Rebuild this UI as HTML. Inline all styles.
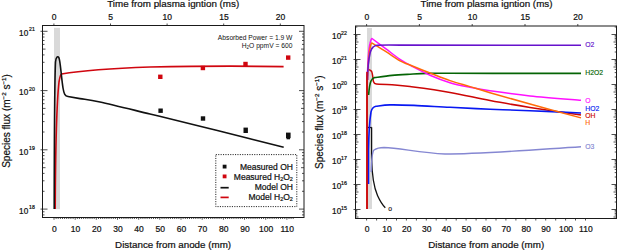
<!DOCTYPE html>
<html><head><meta charset="utf-8"><style>
html,body{margin:0;padding:0;background:#fff;width:617px;height:251px;overflow:hidden}
svg{display:block}
text{font-family:"Liberation Sans", sans-serif;fill:#111;stroke:#111;stroke-width:0.22px}
text.s{stroke:none}
</style></head><body>
<svg width="617" height="251" viewBox="0 0 617 251">
<rect x="54" y="27.8" width="6" height="181.4" fill="#d9d9d9"/>
<rect x="42.5" y="25.5" width="261.5" height="192.0" fill="none" stroke="#1a1a1a" stroke-width="1"/>
<path d="M42.5,214.9H44.5M302.0,214.9H304.0M42.5,211.8H44.5M302.0,211.8H304.0M40.5,209.1H47.5M299.0,209.1H304.0M42.5,191.3H44.5M302.0,191.3H304.0M42.5,180.8H44.5M302.0,180.8H304.0M42.5,173.4H44.5M302.0,173.4H304.0M42.5,167.7H45.5M301.0,167.7H304.0M42.5,163.0H44.5M302.0,163.0H304.0M42.5,159.0H44.5M302.0,159.0H304.0M42.5,155.6H44.5M302.0,155.6H304.0M42.5,152.6H44.5M302.0,152.6H304.0M40.5,149.8H47.5M299.0,149.8H304.0M42.5,132.0H44.5M302.0,132.0H304.0M42.5,121.6H44.5M302.0,121.6H304.0M42.5,114.2H44.5M302.0,114.2H304.0M42.5,108.4H45.5M301.0,108.4H304.0M42.5,103.7H44.5M302.0,103.7H304.0M42.5,99.8H44.5M302.0,99.8H304.0M42.5,96.3H44.5M302.0,96.3H304.0M42.5,93.3H44.5M302.0,93.3H304.0M40.5,90.6H47.5M299.0,90.6H304.0M42.5,72.7H44.5M302.0,72.7H304.0M42.5,62.3H44.5M302.0,62.3H304.0M42.5,54.9H44.5M302.0,54.9H304.0M42.5,49.1H45.5M301.0,49.1H304.0M42.5,44.4H44.5M302.0,44.4H304.0M42.5,40.5H44.5M302.0,40.5H304.0M42.5,37.0H44.5M302.0,37.0H304.0M42.5,34.0H44.5M302.0,34.0H304.0M40.5,31.3H47.5M299.0,31.3H304.0M54.0,217.5V219.7M56.1,217.5V219.0M58.2,217.5V219.0M60.4,217.5V219.0M62.5,217.5V219.0M64.6,217.5V219.0M66.7,217.5V219.0M68.8,217.5V219.0M70.9,217.5V219.0M73.1,217.5V219.0M75.2,217.5V219.7M77.3,217.5V219.0M79.4,217.5V219.0M81.5,217.5V219.0M83.6,217.5V219.0M85.8,217.5V219.0M87.9,217.5V219.0M90.0,217.5V219.0M92.1,217.5V219.0M94.2,217.5V219.0M96.3,217.5V219.7M98.5,217.5V219.0M100.6,217.5V219.0M102.7,217.5V219.0M104.8,217.5V219.0M106.9,217.5V219.0M109.0,217.5V219.0M111.2,217.5V219.0M113.3,217.5V219.0M115.4,217.5V219.0M117.5,217.5V219.7M119.6,217.5V219.0M121.7,217.5V219.0M123.9,217.5V219.0M126.0,217.5V219.0M128.1,217.5V219.0M130.2,217.5V219.0M132.3,217.5V219.0M134.4,217.5V219.0M136.6,217.5V219.0M138.7,217.5V219.7M140.8,217.5V219.0M142.9,217.5V219.0M145.0,217.5V219.0M147.1,217.5V219.0M149.3,217.5V219.0M151.4,217.5V219.0M153.5,217.5V219.0M155.6,217.5V219.0M157.7,217.5V219.0M159.8,217.5V219.7M162.0,217.5V219.0M164.1,217.5V219.0M166.2,217.5V219.0M168.3,217.5V219.0M170.4,217.5V219.0M172.6,217.5V219.0M174.7,217.5V219.0M176.8,217.5V219.0M178.9,217.5V219.0M181.0,217.5V219.7M183.1,217.5V219.0M185.3,217.5V219.0M187.4,217.5V219.0M189.5,217.5V219.0M191.6,217.5V219.0M193.7,217.5V219.0M195.8,217.5V219.0M198.0,217.5V219.0M200.1,217.5V219.0M202.2,217.5V219.7M204.3,217.5V219.0M206.4,217.5V219.0M208.5,217.5V219.0M210.7,217.5V219.0M212.8,217.5V219.0M214.9,217.5V219.0M217.0,217.5V219.0M219.1,217.5V219.0M221.2,217.5V219.0M223.4,217.5V219.7M225.5,217.5V219.0M227.6,217.5V219.0M229.7,217.5V219.0M231.8,217.5V219.0M233.9,217.5V219.0M236.1,217.5V219.0M238.2,217.5V219.0M240.3,217.5V219.0M242.4,217.5V219.0M244.5,217.5V219.7M246.6,217.5V219.0M248.8,217.5V219.0M250.9,217.5V219.0M253.0,217.5V219.0M255.1,217.5V219.0M257.2,217.5V219.0M259.3,217.5V219.0M261.5,217.5V219.0M263.6,217.5V219.0M265.7,217.5V219.7M267.8,217.5V219.0M269.9,217.5V219.0M272.1,217.5V219.0M274.2,217.5V219.0M276.3,217.5V219.0M278.4,217.5V219.0M280.5,217.5V219.0M282.6,217.5V219.0M284.8,217.5V219.0M286.9,217.5V219.7M289.0,217.5V219.0M291.1,217.5V219.0M293.2,217.5V219.0M53.9,25.5V23.5M110.5,25.5V23.5M167.1,25.5V23.5M223.7,25.5V23.5M280.3,25.5V23.5" stroke="#222" stroke-width="0.8" fill="none"/>
<text x="28.2" y="213.8" font-size="8.2" text-anchor="end">10</text><text x="29.0" y="209.2" font-size="5.2">18</text>
<text x="28.2" y="154.5" font-size="8.2" text-anchor="end">10</text><text x="29.0" y="149.9" font-size="5.2">19</text>
<text x="28.2" y="95.3" font-size="8.2" text-anchor="end">10</text><text x="29.0" y="90.7" font-size="5.2">20</text>
<text x="28.2" y="36.0" font-size="8.2" text-anchor="end">10</text><text x="29.0" y="31.4" font-size="5.2">21</text>
<text x="54.4" y="232" font-size="8.5" text-anchor="middle">0</text>
<text x="75.6" y="232" font-size="8.5" text-anchor="middle">10</text>
<text x="96.7" y="232" font-size="8.5" text-anchor="middle">20</text>
<text x="117.9" y="232" font-size="8.5" text-anchor="middle">30</text>
<text x="139.1" y="232" font-size="8.5" text-anchor="middle">40</text>
<text x="160.2" y="232" font-size="8.5" text-anchor="middle">50</text>
<text x="181.4" y="232" font-size="8.5" text-anchor="middle">60</text>
<text x="202.6" y="232" font-size="8.5" text-anchor="middle">70</text>
<text x="223.8" y="232" font-size="8.5" text-anchor="middle">80</text>
<text x="244.9" y="232" font-size="8.5" text-anchor="middle">90</text>
<text x="266.1" y="232" font-size="8.5" text-anchor="middle">100</text>
<text x="287.3" y="232" font-size="8.5" text-anchor="middle">110</text>
<text x="54.1" y="19.8" font-size="8.5" text-anchor="middle">0</text>
<text x="110.7" y="19.8" font-size="8.5" text-anchor="middle">5</text>
<text x="167.3" y="19.8" font-size="8.5" text-anchor="middle">10</text>
<text x="223.9" y="19.8" font-size="8.5" text-anchor="middle">15</text>
<text x="280.5" y="19.8" font-size="8.5" text-anchor="middle">20</text>
<text x="173.1" y="248" font-size="9.8" text-anchor="middle">Distance from anode (mm)</text>
<text x="173.2" y="7.4" font-size="9.8" text-anchor="middle">Time from plasma igntion (ms)</text>
<text transform="translate(10.4,121.0) rotate(-90)" font-size="10" text-anchor="middle">Species flux (m<tspan dy="-4.6" font-size="6.2">−2</tspan><tspan dy="4.6"> s</tspan><tspan dy="-4.6" font-size="6.2">−1</tspan><tspan dy="4.6">)</tspan></text>
<text class="s" x="292.4" y="39.6" font-size="6.7" text-anchor="end">Absorbed Power = 1.9 W</text>
<text class="s" x="292.4" y="47.5" font-size="6.7" text-anchor="end">H<tspan font-size="4.5" dy="1.5">2</tspan><tspan dy="-1.5">O ppmV = 600</tspan></text>
<path d="M55.2,209 C55.5,150 57,100 59,82 C60,76 60.5,74.5 61.5,74 C80,71 110,68.5 150,67 C200,66 250,66 283.6,66.6" stroke="#d0060f" stroke-width="1.6" fill="none"/>
<path d="M54.2,209 C54.3,150 54.6,80 55.5,62 C56,57 57.5,55.5 59,58 C60.5,62 61,75 63,88 C64,94 65,96 68,96.5 C70.00,96.85 74.67,97.68 80.00,98.60 C85.33,99.52 88.33,99.43 100.00,102.00 C111.67,104.57 133.33,109.97 150.00,114.00 C166.67,118.03 183.33,122.07 200.00,126.20 C216.67,130.33 236.05,135.28 250.00,138.80 C263.95,142.32 278.08,145.88 283.70,147.30" stroke="#111" stroke-width="1.6" fill="none"/>
<rect x="158.10000000000002" y="74.6" width="4.4" height="4.4" fill="#d0060f"/>
<rect x="200.70000000000002" y="65.8" width="4.4" height="4.4" fill="#d0060f"/>
<rect x="243.3" y="61.8" width="4.4" height="4.4" fill="#d0060f"/>
<rect x="286.0" y="55.4" width="4.4" height="4.4" fill="#d0060f"/>
<rect x="158.4" y="108.5" width="4.4" height="4.4" fill="#111"/>
<rect x="200.8" y="116.3" width="4.4" height="4.4" fill="#111"/>
<rect x="243.5" y="127.6" width="4.4" height="5.4" fill="#111"/>
<rect x="286.0" y="132.6" width="4.6" height="5.6" fill="#111"/><rect x="286.6" y="138" width="3.4" height="1.3" fill="#111"/>
<rect x="215.8" y="154.6" width="81" height="52" fill="none" stroke="#222" stroke-width="1" stroke-dasharray="1.1,1.3"/>
<rect x="222.7" y="164.7" width="3.8" height="3.8" fill="#111"/><rect x="222.7" y="174.5" width="3.8" height="3.8" fill="#d0060f"/>
<path d="M220.5,187.7H228.7" stroke="#111" stroke-width="1.7"/><path d="M220.5,197.4H228.7" stroke="#d0060f" stroke-width="1.7"/>
<text x="292.9" y="169.9" font-size="8.5" text-anchor="end">Measured OH</text>
<text x="292.9" y="179.6" font-size="8.5" text-anchor="end">Measured H<tspan font-size="5.5" dy="1.5">2</tspan><tspan dy="-1.5">O</tspan><tspan font-size="5.5" dy="1.5">2</tspan></text>
<text x="292.9" y="190" font-size="8.5" text-anchor="end">Model OH</text>
<text x="292.9" y="199.8" font-size="8.5" text-anchor="end">Model H<tspan font-size="5.5" dy="1.5">2</tspan><tspan dy="-1.5">O</tspan><tspan font-size="5.5" dy="1.5">2</tspan></text>
<rect x="367" y="28" width="5" height="181" fill="#d9d9d9"/>
<rect x="355.5" y="26.0" width="261.0" height="192.5" fill="none" stroke="#1a1a1a" stroke-width="1"/>
<path d="M355.5,217.0H358.5M613.5,217.0H616.5M355.5,215.0H357.3M614.7,215.0H616.5M355.5,213.4H357.3M614.7,213.4H616.5M355.5,211.9H357.3M614.7,211.9H616.5M355.5,210.6H357.3M614.7,210.6H616.5M353.5,209.5H360.5M611.5,209.5H616.5M355.5,202.0H357.3M614.7,202.0H616.5M355.5,197.6H357.3M614.7,197.6H616.5M355.5,194.4H357.3M614.7,194.4H616.5M355.5,192.0H358.5M613.5,192.0H616.5M355.5,190.0H357.3M614.7,190.0H616.5M355.5,188.4H357.3M614.7,188.4H616.5M355.5,186.9H357.3M614.7,186.9H616.5M355.5,185.6H357.3M614.7,185.6H616.5M353.5,184.5H360.5M611.5,184.5H616.5M355.5,177.0H357.3M614.7,177.0H616.5M355.5,172.6H357.3M614.7,172.6H616.5M355.5,169.4H357.3M614.7,169.4H616.5M355.5,167.0H358.5M613.5,167.0H616.5M355.5,165.0H357.3M614.7,165.0H616.5M355.5,163.4H357.3M614.7,163.4H616.5M355.5,161.9H357.3M614.7,161.9H616.5M355.5,160.6H357.3M614.7,160.6H616.5M353.5,159.5H360.5M611.5,159.5H616.5M355.5,152.0H357.3M614.7,152.0H616.5M355.5,147.6H357.3M614.7,147.6H616.5M355.5,144.4H357.3M614.7,144.4H616.5M355.5,142.0H358.5M613.5,142.0H616.5M355.5,140.0H357.3M614.7,140.0H616.5M355.5,138.4H357.3M614.7,138.4H616.5M355.5,136.9H357.3M614.7,136.9H616.5M355.5,135.6H357.3M614.7,135.6H616.5M353.5,134.5H360.5M611.5,134.5H616.5M355.5,127.0H357.3M614.7,127.0H616.5M355.5,122.6H357.3M614.7,122.6H616.5M355.5,119.4H357.3M614.7,119.4H616.5M355.5,117.0H358.5M613.5,117.0H616.5M355.5,115.0H357.3M614.7,115.0H616.5M355.5,113.4H357.3M614.7,113.4H616.5M355.5,111.9H357.3M614.7,111.9H616.5M355.5,110.6H357.3M614.7,110.6H616.5M353.5,109.5H360.5M611.5,109.5H616.5M355.5,102.0H357.3M614.7,102.0H616.5M355.5,97.6H357.3M614.7,97.6H616.5M355.5,94.4H357.3M614.7,94.4H616.5M355.5,92.0H358.5M613.5,92.0H616.5M355.5,90.0H357.3M614.7,90.0H616.5M355.5,88.4H357.3M614.7,88.4H616.5M355.5,86.9H357.3M614.7,86.9H616.5M355.5,85.6H357.3M614.7,85.6H616.5M353.5,84.5H360.5M611.5,84.5H616.5M355.5,77.0H357.3M614.7,77.0H616.5M355.5,72.6H357.3M614.7,72.6H616.5M355.5,69.4H357.3M614.7,69.4H616.5M355.5,67.0H358.5M613.5,67.0H616.5M355.5,65.0H357.3M614.7,65.0H616.5M355.5,63.4H357.3M614.7,63.4H616.5M355.5,61.9H357.3M614.7,61.9H616.5M355.5,60.6H357.3M614.7,60.6H616.5M353.5,59.5H360.5M611.5,59.5H616.5M355.5,52.0H357.3M614.7,52.0H616.5M355.5,47.6H357.3M614.7,47.6H616.5M355.5,44.4H357.3M614.7,44.4H616.5M355.5,42.0H358.5M613.5,42.0H616.5M355.5,40.0H357.3M614.7,40.0H616.5M355.5,38.4H357.3M614.7,38.4H616.5M355.5,36.9H357.3M614.7,36.9H616.5M355.5,35.6H357.3M614.7,35.6H616.5M353.5,34.5H360.5M611.5,34.5H616.5M355.5,27.0H357.3M614.7,27.0H616.5M366.6,218.5V220.5M376.6,218.5V220.5M386.5,218.5V220.5M396.5,218.5V220.5M406.4,218.5V220.5M416.4,218.5V220.5M426.3,218.5V220.5M436.2,218.5V220.5M446.2,218.5V220.5M456.2,218.5V220.5M466.1,218.5V220.5M476.1,218.5V220.5M486.0,218.5V220.5M496.0,218.5V220.5M505.9,218.5V220.5M515.9,218.5V220.5M525.8,218.5V220.5M535.8,218.5V220.5M545.7,218.5V220.5M555.7,218.5V220.5M565.6,218.5V220.5M575.5,218.5V220.5M585.5,218.5V220.5M366.6,26.0V24.0M419.4,26.0V24.0M472.2,26.0V24.0M525.0,26.0V24.0M577.8,26.0V24.0" stroke="#222" stroke-width="0.8" fill="none"/>
<text x="341.2" y="214.1" font-size="8.2" text-anchor="end">10</text><text x="341.1" y="209.7" font-size="5.3">15</text>
<text x="341.2" y="189.1" font-size="8.2" text-anchor="end">10</text><text x="341.1" y="184.7" font-size="5.3">16</text>
<text x="341.2" y="164.1" font-size="8.2" text-anchor="end">10</text><text x="341.1" y="159.7" font-size="5.3">17</text>
<text x="341.2" y="139.1" font-size="8.2" text-anchor="end">10</text><text x="341.1" y="134.7" font-size="5.3">18</text>
<text x="341.2" y="114.1" font-size="8.2" text-anchor="end">10</text><text x="341.1" y="109.7" font-size="5.3">19</text>
<text x="341.2" y="89.1" font-size="8.2" text-anchor="end">10</text><text x="341.1" y="84.7" font-size="5.3">20</text>
<text x="341.2" y="64.1" font-size="8.2" text-anchor="end">10</text><text x="341.1" y="59.7" font-size="5.3">21</text>
<text x="341.2" y="39.1" font-size="8.2" text-anchor="end">10</text><text x="341.1" y="34.7" font-size="5.3">22</text>
<text x="367.0" y="232" font-size="8.5" text-anchor="middle">0</text>
<text x="386.9" y="232" font-size="8.5" text-anchor="middle">10</text>
<text x="406.8" y="232" font-size="8.5" text-anchor="middle">20</text>
<text x="426.7" y="232" font-size="8.5" text-anchor="middle">30</text>
<text x="446.6" y="232" font-size="8.5" text-anchor="middle">40</text>
<text x="466.5" y="232" font-size="8.5" text-anchor="middle">50</text>
<text x="486.4" y="232" font-size="8.5" text-anchor="middle">60</text>
<text x="506.3" y="232" font-size="8.5" text-anchor="middle">70</text>
<text x="526.2" y="232" font-size="8.5" text-anchor="middle">80</text>
<text x="546.1" y="232" font-size="8.5" text-anchor="middle">90</text>
<text x="566.0" y="232" font-size="8.5" text-anchor="middle">100</text>
<text x="585.9" y="232" font-size="8.5" text-anchor="middle">110</text>
<text x="366.8" y="19.8" font-size="8.5" text-anchor="middle">0</text>
<text x="419.6" y="19.8" font-size="8.5" text-anchor="middle">5</text>
<text x="472.4" y="19.8" font-size="8.5" text-anchor="middle">10</text>
<text x="525.2" y="19.8" font-size="8.5" text-anchor="middle">15</text>
<text x="578.0" y="19.8" font-size="8.5" text-anchor="middle">20</text>
<text x="486.2" y="248" font-size="9.8" text-anchor="middle">Distance from anode (mm)</text>
<text x="486.5" y="7.4" font-size="9.8" text-anchor="middle">Time from plasma igntion (ms)</text>
<text transform="translate(323.2,122.2) rotate(-90)" font-size="10" text-anchor="middle">Species flux (m<tspan dy="-4.6" font-size="6.2">−2</tspan><tspan dy="4.6"> s</tspan><tspan dy="-4.6" font-size="6.2">−1</tspan><tspan dy="4.6">)</tspan></text>
<path d="M371.6,127.3 V158 C371.9,174 373.8,187 377.5,195.5 C380,201 382.5,205 385.3,207.8" stroke="#111" stroke-width="1.3" fill="none"/>
<path d="M367.8,127.5H371.6" stroke="#111" stroke-width="1.3" fill="none"/>
<path d="M367.0,209 V80 C367.0,74 367.2,70.5 368.1,69.9 C369.2,69.6 370.5,70.3 371.6,71.4 C372.4,72.5 372.8,77 373.4,81.5 C374,83.4 375,84 376.3,84.1 C380,84.4 385,84.6 392,84.8  C395.00,85.10 400.33,85.33 410.00,86.60 C419.67,87.87 436.67,90.07 450.00,92.40 C463.33,94.73 476.67,98.10 490.00,100.60 C503.33,103.10 514.83,104.98 530.00,107.40 C545.17,109.82 572.50,113.82 581.00,115.10" stroke="#cc0606" stroke-width="1.5" fill="none"/>
<path d="M368.5,184 V150 C368.9,128 369.8,119 371,112 C372,108 373.5,106.8 376,106.3  C378.33,106.07 383.67,105.05 390.00,104.90 C396.33,104.75 404.00,105.00 414.00,105.40 C424.00,105.80 437.33,106.67 450.00,107.30 C462.67,107.93 476.67,108.63 490.00,109.20 C503.33,109.77 514.83,110.07 530.00,110.70 C545.17,111.33 572.50,112.62 581.00,113.00" stroke="#0818f2" stroke-width="1.6" fill="none"/>
<path d="M368.6,95 C369.2,88 370,83 371,81 C372,79 373,78 374.5,77.6  C377.42,77.23 386.08,75.97 392.00,75.40 C397.92,74.83 404.17,74.53 410.00,74.20 C415.83,73.87 420.33,73.55 427.00,73.40 C433.67,73.25 432.83,73.30 450.00,73.30 C467.17,73.30 508.17,73.38 530.00,73.40 C551.83,73.42 572.50,73.40 581.00,73.40" stroke="#056405" stroke-width="1.6" fill="none"/>
<path d="M367.4,76 C367.8,62 368.8,48 370,43.5 C370.7,40.5 371.2,38.8 372,38.5  C374.33,40.23 381.33,45.42 386.00,48.90 C390.67,52.38 395.67,56.50 400.00,59.40 C404.33,62.30 407.00,63.67 412.00,66.30 C417.00,68.93 423.67,72.47 430.00,75.20 C436.33,77.93 443.33,80.68 450.00,82.70 C456.67,84.72 463.33,85.95 470.00,87.30 C476.67,88.65 480.00,89.37 490.00,90.80 C500.00,92.23 514.83,94.32 530.00,95.90 C545.17,97.48 572.50,99.57 581.00,100.30" stroke="#ff10ff" stroke-width="1.5" fill="none"/>
<path d="M367.5,80 C368.1,64 369,52 370.3,47 C370.8,44.5 371.3,43.2 372,43.1  C374.33,44.53 381.33,48.73 386.00,51.70 C390.67,54.67 396.00,58.68 400.00,60.90 C404.00,63.12 405.00,62.98 410.00,65.00 C415.00,67.02 423.33,70.40 430.00,73.00 C436.67,75.60 443.33,78.33 450.00,80.60 C456.67,82.87 463.33,84.58 470.00,86.60 C476.67,88.62 480.00,89.80 490.00,92.70 C500.00,95.60 514.83,99.80 530.00,104.00 C545.17,108.20 572.50,115.58 581.00,117.90" stroke="#ff6a08" stroke-width="1.5" fill="none"/>
<path d="M367.5,80 C367.6,72 368.4,60 370.3,52 C371.3,48.8 372.3,47.6 373.2,47 C374,46.3 375,45.6 377,45.2 C382,45 390,45 400,45.1 C480,45.2 540,45.3 581,45.3" stroke="#6612cc" stroke-width="1.6" fill="none"/>
<path d="M371.2,172 C371.5,160 372,152 374,150 C377,148 380,147.5 384,147.5 C400,148 420,153 445,154 C480,154 530,150 581,146.7" stroke="#8587d2" stroke-width="1.4" fill="none"/>
<path d="M367.0,209 V72" stroke="#cc0606" stroke-width="1.5" fill="none"/>
<text x="585.3" y="46.8" font-size="6.8" style="fill:#6612cc;stroke:#6612cc;stroke-width:0.15px">O2</text>
<text x="585.3" y="75.2" font-size="6.8" style="fill:#056405;stroke:#056405;stroke-width:0.15px">H2O2</text>
<text x="585.3" y="102.6" font-size="6.8" style="fill:#ff10ff;stroke:#ff10ff;stroke-width:0.15px">O</text>
<text x="585.3" y="110.9" font-size="6.8" style="fill:#0818f2;stroke:#0818f2;stroke-width:0.15px">HO2</text>
<text x="585.3" y="117.9" font-size="6.8" style="fill:#cc0606;stroke:#cc0606;stroke-width:0.15px">OH</text>
<text x="585.3" y="124.9" font-size="6.8" style="fill:#ff6a08;stroke:#ff6a08;stroke-width:0.15px">H</text>
<text x="585.3" y="149.1" font-size="6.8" style="fill:#8587d2;stroke:#8587d2;stroke-width:0.15px">O3</text>
<text x="388.3" y="210.9" font-size="6.8" style="fill:#111;stroke:#111;stroke-width:0.15px">o</text>
</svg></body></html>
